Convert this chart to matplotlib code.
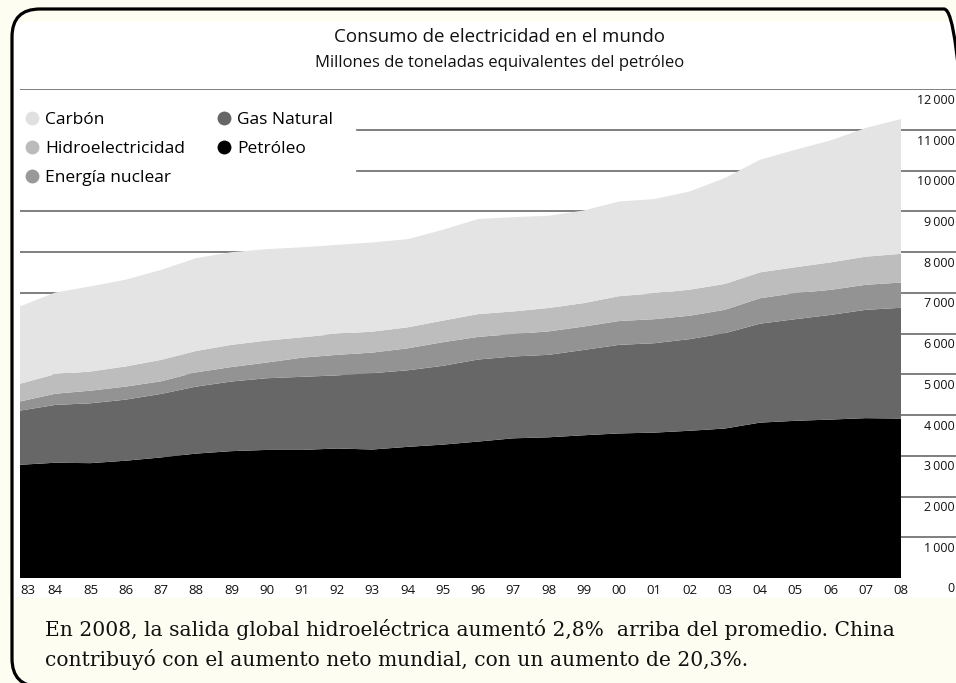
import matplotlib
matplotlib.use("Agg")
import matplotlib.pyplot as plt
from matplotlib.lines import Line2D
from matplotlib.patches import FancyBboxPatch, Rectangle
from matplotlib.transforms import offset_copy

plt.rcParams['font.family'] = ['Open Sans', 'DejaVu Sans']

# datos (millones de toneladas equivalentes de petroleo)
years = list(range(1983, 2009))
year_labels = ["83", "84", "85", "86", "87", "88", "89", "90", "91", "92", "93", "94", "95",
               "96", "97", "98", "99", "00", "01", "02", "03", "04", "05", "06", "07", "08"]
petroleo = [2780, 2830, 2820, 2880, 2960, 3055, 3115, 3145, 3145, 3180, 3155, 3220, 3275,
            3350, 3430, 3455, 3505, 3550, 3570, 3615, 3670, 3815, 3860, 3890, 3925, 3915]
gas = [1330, 1420, 1470, 1500, 1560, 1645, 1710, 1760, 1795, 1795, 1875, 1880, 1935,
       2015, 2010, 2025, 2095, 2175, 2195, 2250, 2340, 2430, 2495, 2570, 2660, 2720]
nuclear = [225, 275, 310, 320, 310, 350, 355, 385, 470, 505, 505, 540, 580,
           555, 550, 575, 575, 585, 590, 575, 575, 625, 640, 615, 615, 620]
hidro = [435, 480, 470, 495, 525, 525, 545, 540, 500, 515, 515, 515, 530,
         560, 555, 575, 575, 610, 635, 640, 635, 635, 635, 675, 690, 705]
carbon = [1900, 2005, 2090, 2130, 2210, 2280, 2275, 2245, 2210, 2185, 2190, 2165, 2230,
          2335, 2315, 2265, 2275, 2325, 2315, 2410, 2600, 2765, 2885, 2995, 3160, 3310]
yticks = list(range(0, 13000, 1000))

names = ["Carbón", "Hidroelectricidad", "Energía nuclear", "Gas Natural", "Petróleo"]
fills = {"Carbón": "#e4e4e4", "Hidroelectricidad": "#bdbdbd", "Energía nuclear": "#939393",
         "Gas Natural": "#676767", "Petróleo": "#000000"}
dots = {"Carbón": "#e0e0e0", "Hidroelectricidad": "#bbbbbb", "Energía nuclear": "#999999",
        "Gas Natural": "#666666", "Petróleo": "#000000"}

W, H = 956, 683
cream = "#fdfdf1"
fig = plt.figure(figsize=(W / 100, H / 100), dpi=100, facecolor=cream)

# marco redondeado y panel blanco
frame = FancyBboxPatch((0.12, -0.035), 9.60, 6.775, boxstyle="round,pad=0,rounding_size=0.28",
                       transform=fig.dpi_scale_trans, facecolor="none", edgecolor="black",
                       linewidth=2.3, zorder=5)
panel = Rectangle((14 / W, 1 - 598 / H), (W - 14) / W, (598 - 22) / H, transform=fig.transFigure,
                  facecolor="white", edgecolor="none", zorder=-1)
fig.patches.append(panel)
fig.patches.append(frame)
panel.set_clip_path(frame)

x0, x1 = 20, 901
px_year = (x1 - x0) / (years[-1] - years[0])
ax = fig.add_axes([x0 / W, 1 - 578 / H, (W - x0) / W, (578 - 89.3) / H])
ax.set_facecolor("none")
ax.set_zorder(1)
ax.stackplot(years, petroleo, gas, nuclear, hidro, carbon,
             colors=[fills[n] for n in ["Petróleo", "Gas Natural", "Energía nuclear",
                                        "Hidroelectricidad", "Carbón"]],
             linewidth=0, zorder=2)
ax.set_xlim(years[0], years[0] + (W - x0) / px_year)
ax.set_ylim(0, 12000)

# lineas de referencia (las de 10 000 y 11 000 quedan tapadas por la leyenda)
for v in yticks[1:]:
    start = (357 - x0) / (W - x0) if v in (10000, 11000) else 0
    ax.axhline(v, xmin=start, color="#6a6a6a", linewidth=1.2, zorder=1)

for s in ax.spines.values():
    s.set_visible(False)
ax.set_yticks([])
ax.set_xticks(years)
ax.set_xticklabels(year_labels, fontsize=9.5)
ax.tick_params(axis="x", length=0, pad=4, colors="#111111")
# la primera etiqueta queda pegada al marco: se alinea a la izquierda
ax.get_xticklabels()[0].set_horizontalalignment("left")

ylab_tr = offset_copy(ax.get_yaxis_transform(), fig=fig, x=-1, y=-11, units="dots")
for v in yticks:
    txt = "0" if v == 0 else f"{v // 1000}\u2009000"
    ax.text(1.0, v, txt, transform=ylab_tr, ha="right", va="center",
            fontsize=9, color="#111111", clip_on=False)

fig.text(500 / W, 1 - 37 / H, "Consumo de electricidad en el mundo", ha="center", va="center",
         fontsize=13.5, color="#111111")
fig.text(500 / W, 1 - 63 / H, "Millones de toneladas equivalentes del petróleo", ha="center",
         va="center", fontsize=12, color="#111111")

handles = [Line2D([], [], marker="o", linestyle="", markersize=10, color=dots[n],
                  markeredgewidth=0, label=n) for n in names]
fig.legend(handles=handles, ncol=2, loc="upper left", bbox_to_anchor=(25 / W, 1 - 112 / H),
           frameon=False, fontsize=12.5, borderpad=0, borderaxespad=0, handlelength=0.8,
           handletextpad=0.35, columnspacing=1.85, labelspacing=0.74)

cap = dict(family=["DejaVu Serif"], fontsize=14.6, color="#111111", va="center", ha="left")
fig.text(45 / W, 1 - 630 / H,
         "En 2008, la salida global hidroeléctrica aumentó 2,8%  arriba del promedio. China", **cap)
fig.text(45 / W, 1 - 659 / H,
         "contribuyó con el aumento neto mundial, con un aumento de 20,3%.", **cap)

fig.savefig("out.png", dpi=100, facecolor=cream)
